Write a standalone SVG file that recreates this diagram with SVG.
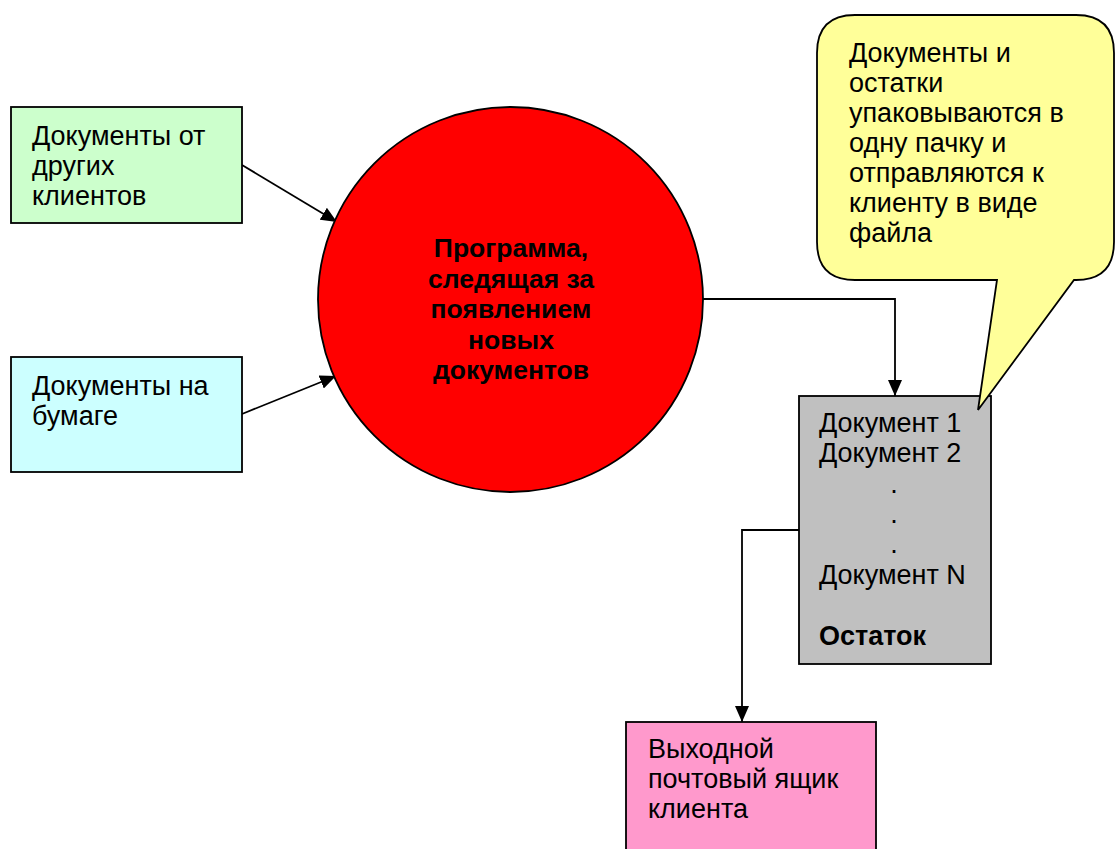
<svg xmlns="http://www.w3.org/2000/svg" width="1115" height="849" viewBox="0 0 1115 849">
  <style>
    .box { stroke: #000; stroke-width: 1.8; }
    .t { font-family: "Liberation Sans", Arial, sans-serif; font-size: 27px; fill: #000; }
    .tb { font-family: "Liberation Sans", Arial, sans-serif; font-size: 26.5px; font-weight: bold; fill: #000; }
    .conn { fill: none; stroke: #000; stroke-width: 1.8; }
  </style>
  <defs>
    <marker id="arr" viewBox="0 0 16 14" refX="16" refY="7" markerWidth="16" markerHeight="14" markerUnits="userSpaceOnUse" orient="auto">
      <path d="M0,0 L16,7 L0,14 Z" fill="#000"/>
    </marker>
  </defs>
  <rect width="1115" height="849" fill="#fff"/>

  <g id="connectors">
    <line class="conn" x1="242" y1="165" x2="337" y2="222" marker-end="url(#arr)"/>
    <line class="conn" x1="242" y1="414" x2="336" y2="376" marker-end="url(#arr)"/>
    <polyline class="conn" points="703,299 895,299 895,396" marker-end="url(#arr)"/>
    <polyline class="conn" points="799,530 742,530 742,722" marker-end="url(#arr)"/>
  </g>

  <g id="node-other-clients">
    <rect class="box" x="11" y="107" width="231" height="116" fill="#CCFFCC"/>
    <text class="t" x="32" y="145">Документы от</text>
    <text class="t" x="32" y="175">других</text>
    <text class="t" x="32" y="205">клиентов</text>
  </g>

  <g id="node-paper">
    <rect class="box" x="11" y="357" width="231" height="115" fill="#CCFFFF"/>
    <text class="t" x="32" y="395">Документы на</text>
    <text class="t" x="32" y="425">бумаге</text>
  </g>

  <g id="node-program">
    <circle class="box" cx="510.5" cy="299.5" r="192.5" fill="#FF0000"/>
    <text class="tb" text-anchor="middle" x="511" y="257">Программа,</text>
    <text class="tb" text-anchor="middle" x="511" y="287.5">следящая за</text>
    <text class="tb" text-anchor="middle" x="511" y="318">появлением</text>
    <text class="tb" text-anchor="middle" x="511" y="348.5">новых</text>
    <text class="tb" text-anchor="middle" x="511" y="379">документов</text>
  </g>

  <g id="node-package">
    <rect class="box" x="799" y="396" width="192" height="268" fill="#C0C0C0"/>
    <text class="t" x="819" y="432">Документ 1</text>
    <text class="t" x="819" y="462">Документ 2</text>
    <text class="t" x="894" y="493" text-anchor="middle">.</text>
    <text class="t" x="894" y="523" text-anchor="middle">.</text>
    <text class="t" x="894" y="553" text-anchor="middle">.</text>
    <text class="t" x="819" y="584">Документ N</text>
    <text class="t" x="819" y="645" font-weight="bold" font-size="24.5px">Остаток</text>
  </g>

  <g id="node-callout">
    <path class="box" fill="#FFFF99" d="M855,15 L1076,15 Q1114,15 1114,53 L1114,242 Q1114,280 1076,280 L1074,280 L978,410 L997,280 L855,280 Q817,280 817,242 L817,53 Q817,15 855,15 Z"/>
    <text class="t" x="849" y="62">Документы и</text>
    <text class="t" x="849" y="92">остатки</text>
    <text class="t" x="849" y="122">упаковываются в</text>
    <text class="t" x="849" y="152">одну пачку и</text>
    <text class="t" x="849" y="182">отправляются к</text>
    <text class="t" x="849" y="212">клиенту в виде</text>
    <text class="t" x="849" y="242">файла</text>
  </g>

  <g id="node-outbox">
    <rect class="box" x="626" y="722" width="250" height="140" fill="#FF99CC"/>
    <text class="t" x="648" y="758">Выходной</text>
    <text class="t" x="648" y="788">почтовый ящик</text>
    <text class="t" x="648" y="818">клиента</text>
  </g>
</svg>
